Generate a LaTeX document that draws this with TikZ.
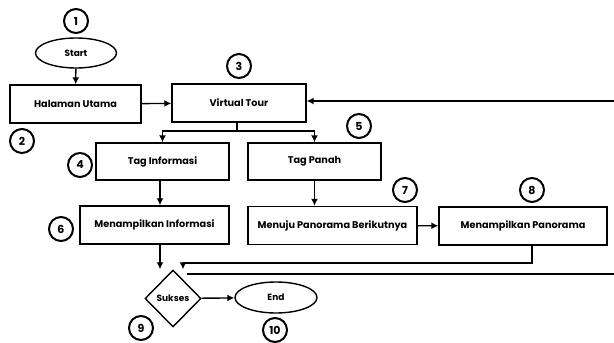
\documentclass[tikz,border=0pt]{standalone}
\usepackage{fontspec}
\setmainfont{Poppins}
\usetikzlibrary{shapes.geometric,arrows.meta}

\tikzset{
  box/.style={draw=black, line width=1.4pt, minimum width=#1, minimum height=38pt, inner sep=0pt, font=\fontsize{9.7}{11}\selectfont\bfseries},
  oval/.style={draw=black, line width=1.4pt, ellipse, minimum width=81pt, minimum height=30pt, inner sep=0pt, font=\fontsize{9}{10}\selectfont\bfseries},
  num/.style={draw=black, circle, line width=2pt, minimum size=24pt, inner sep=0pt, font=\fontsize{11}{12}\selectfont\bfseries},
  flow/.style={line width=1.4pt, -{Latex[length=7pt,width=7pt]}},
  plain/.style={line width=1.4pt}
}

\begin{document}
\begin{tikzpicture}[x=1pt, y=-1pt]
  \useasboundingbox (0,0) rectangle (614,343);

  % nodes
  \node[oval] (START) at (76,53) {Start};
  \node[box=131pt] (HALAMAN) at (75.5,104) {Halaman Utama};
  \node[box=134pt] (VTOUR) at (239,103) {Virtual Tour};
  \node[box=133pt, minimum height=37pt] (TAGINFO) at (162.5,161.5) {Tag Informasi};
  \node[box=133pt, minimum height=37pt] (TAGPANAH) at (314.5,161.5) {Tag Panah};
  \node[box=149pt] (SHOWINFO) at (154.5,225) {Menampilkan Informasi};
  \node[box=169pt] (NEXTPANO) at (332.5,225.5) {Menuju Panorama Berikutnya};
  \node[box=168pt] (SHOWPANO) at (523,226) {Menampilkan Panorama};
  \node[draw=black, line width=1.4pt, diamond, minimum width=56pt, minimum height=57pt, inner sep=0pt, font=\fontsize{9}{10}\selectfont\bfseries] (SUKSES) at (173,298.5) {Sukses};
  \node[oval, minimum width=82pt, minimum height=31pt] (END) at (276,297.5) {End};

  % numbers
  \node[num] (N1) at (76,21) {1};
  \node[num] (N2) at (22,141) {2};
  \node[num] (N3) at (239,66) {3};
  \node[num] (N4) at (80,165) {4};
  \node[num] (N5) at (359,126) {5};
  \node[num] (N6) at (61,229) {6};
  \node[num] (N7) at (405,190) {7};
  \node[num] (N8) at (532,190) {8};
  \node[num] (N9) at (141,328) {9};
  \node[num] (N10) at (275,330) {10};

  % helper points
  \coordinate (BACKTOUR) at (614,101);
  \coordinate (SPLIT) at (237,131);
  \coordinate (LEFTIN) at (160,0);
  \coordinate (RIGHTIN) at (183,263);
  \coordinate (PANODOWN) at (532,0);
  \coordinate (FAILR) at (614,274);

  % connectors
  \draw[flow] (START) -- (HALAMAN);
  \draw[flow] (HALAMAN) -- (VTOUR);
  \draw[flow] (BACKTOUR) -- (VTOUR.east |- BACKTOUR);
  \draw[plain] (VTOUR.south -| SPLIT) -- (SPLIT);
  \draw[flow] (SPLIT) -| (TAGINFO.north);
  \draw[flow] (SPLIT) -| (TAGPANAH.north);
  \draw[flow] (TAGINFO.south -| LEFTIN) -- (SHOWINFO.north -| LEFTIN);
  \draw[flow] (TAGPANAH.south) -- (TAGPANAH.south |- NEXTPANO.north);
  \draw[flow] (NEXTPANO) -- (SHOWPANO);
  \draw[flow] (SHOWINFO.south -| LEFTIN) -- (SUKSES.north -| LEFTIN);
  \draw[flow] (SHOWPANO.south -| PANODOWN) |- (RIGHTIN) -- (SUKSES.north -| RIGHTIN);
  \draw[plain] (SUKSES.north east |- FAILR) -- (FAILR);
  \draw[flow] (SUKSES) -- (END);
\end{tikzpicture}
\end{document}
